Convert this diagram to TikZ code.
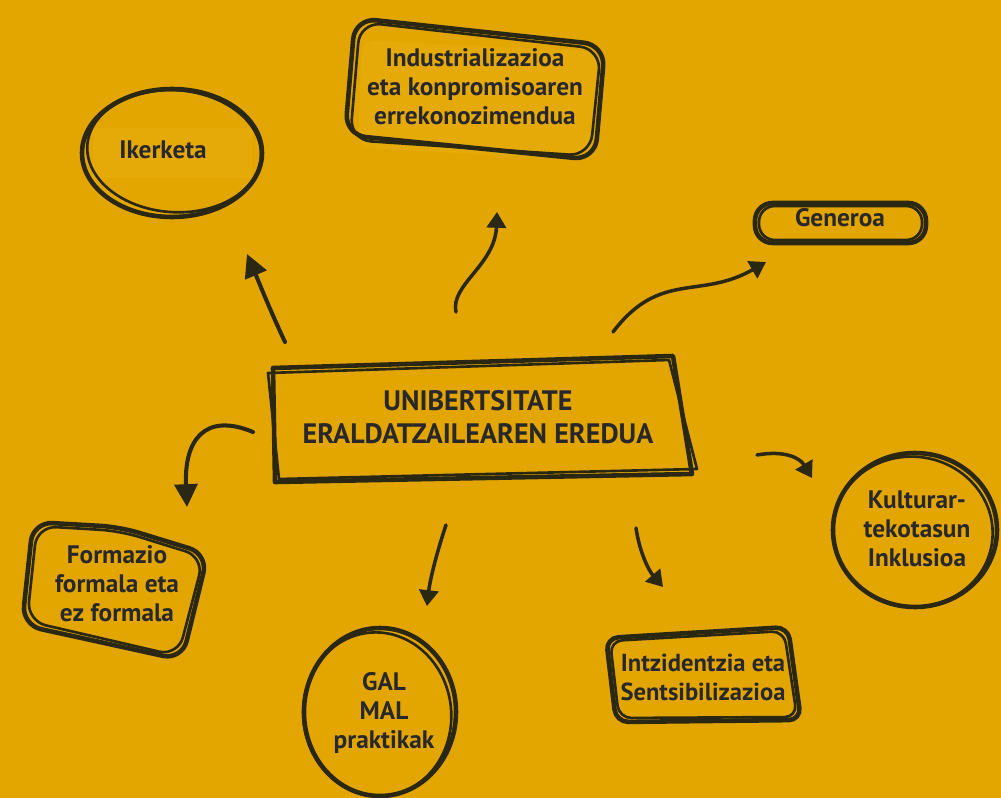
\documentclass[tikz,border=0pt]{standalone}
\usepackage[usenames,dvipsnames,svgnames,table]{xcolor}
\usepackage{fontspec}
\setmainfont{PT Sans}
\usepackage{tikz}
\usetikzlibrary{arrows.meta}
\definecolor{paper}{HTML}{E3A600}
\definecolor{patch}{HTML}{E5AA08}
\definecolor{ink}{HTML}{2A2812}
\definecolor{letter}{HTML}{28272A}
\tikzset{
	sketch/.style={ink, line width=2.6pt, line join=round, line cap=round},
	sketchthin/.style={ink, line width=1.5pt, line join=round, line cap=round},
	label/.style={align=center, text=letter, font=\bfseries\fontsize{14.4}{16.5}\selectfont},
	bigarrow/.style={ink, line width=2.3pt, line cap=round, -{Triangle[length=13pt,width=13pt]}},
	smallarrow/.style={ink, line width=2pt, line cap=round, -{Triangle[length=9pt,width=11pt]}}
}

\begin{document}
\begin{tikzpicture}[x=0.02cm, y=-0.02cm]

	\fill[paper] (0,0) rectangle (1001,798);
	\useasboundingbox (0,0) rectangle (1001,798);

	%	\foreach \i in {0,100,...,1000} {
	%        \draw [very thin,gray] (\i,0) -- (\i,798);
	%    }

	% outlines
	\fill[patch] (93,128) rectangle (252,178);
	\draw[sketch] (172,153) ellipse [x radius=90, y radius=64];
	\draw[sketchthin, rotate around={-4:(172,153)}] (174,151) ellipse [x radius=87, y radius=61];

	\fill[patch, rounded corners=8pt] (362,40) -- (598,52) -- (590,160) -- (358,148) -- cycle;
	\draw[sketch, rounded corners=12pt] (355,18) -- (605,45) -- (595,160) -- (345,135) -- cycle;
	\draw[sketchthin, rounded corners=12pt] (360,22) -- (601,49) -- (590,156) -- (350,140) -- cycle;

	\draw[sketch, rounded corners=10pt] (755,203) rectangle (926,243);
	\draw[sketchthin, rounded corners=9pt] (759,206) rectangle (922,240);

	\draw[sketch] (273,368) -- (673,356) -- (692,474) -- (275,482) -- cycle;
	\draw[sketchthin] (268,373) -- (669,360) -- (697,469) -- (279,479) -- cycle;

	\draw[sketch, rounded corners=11pt] (33,522) -- (120,527) -- (208,554) -- (182,660) -- (22,625) -- cycle;
	\draw[sketchthin, rounded corners=11pt] (37,526) -- (120,531) -- (204,557) -- (178,656) -- (27,621) -- cycle;

	\draw[sketch] (380,712) ellipse [x radius=76, y radius=84];
	\draw[sketchthin, rotate around={6:(380,712)}] (377,714) ellipse [x radius=74, y radius=82];

	\draw[sketch, rounded corners=7pt] (606,638) -- (788,627) -- (801,720) -- (616,722) -- cycle;
	\draw[sketchthin, rounded corners=7pt] (610,641) -- (784,631) -- (797,717) -- (619,718) -- cycle;

	\draw[sketch] (915,530) ellipse [x radius=82, y radius=77];
	\draw[sketchthin, rotate around={-8:(915,530)}] (913,532) ellipse [x radius=80, y radius=75];

	% texts
	\node[label] (ike) at (163,150) {Ikerketa};
	\node[label] (ind) at (475,87) {Industrializazioa\\eta konpromisoaren\\errekonozimendua};
	\node[label] (gen) at (840,218) {Generoa};
	\node[label, font=\bfseries\fontsize{16}{19}\selectfont] (hub) at (478,417) {UNIBERTSITATE\\ERALDATZAILEAREN EREDUA};
	\node[label] (for) at (117,584) {Formazio\\formala eta\\ez formala};
	\node[label] (gal) at (384,713) {GAL\\MAL\\praktikak};
	\node[label, font=\bfseries\fontsize{14}{16.5}\selectfont] (int) at (703,677) {Intzidentzia eta\\Sentsibilizazioa};
	\node[label] (kul) at (917,529) {Kulturar-\\tekotasun\\Inklusioa};

	% arrows
	\coordinate (ikeS) at (285,342);
	\coordinate (ikeE) at (247,254);
	\coordinate (indS) at (456,312);
	\coordinate (indE) at (497,212);
	\coordinate (genS) at (613,332);
	\coordinate (genE) at (766,262);
	\coordinate (forS) at (253,432);
	\coordinate (forE) at (187,507);
	\coordinate (kulS) at (757,455);
	\coordinate (kulE) at (812,478);
	\coordinate (galS) at (446,525);
	\coordinate (galE) at (427,606);
	\coordinate (intS) at (636,528);
	\coordinate (intE) at (663,587);

	\draw[bigarrow] (ikeS) .. controls (270,310) and (258,280) .. (ikeE);
	\draw[smallarrow] (indS) .. controls (450,285) and (495,265) .. (indE);
	\draw[smallarrow] (genS) .. controls (660,270) and (700,300) .. (genE);
	\draw[bigarrow] (forS) .. controls (205,412) and (184,440) .. (forE);
	\draw[smallarrow] (kulS) .. controls (785,450) and (800,458) .. (kulE);
	\draw[smallarrow] (galS) .. controls (436,555) and (430,580) .. (galE);
	\draw[smallarrow] (intS) .. controls (640,555) and (650,572) .. (intE);

\end{tikzpicture}
\end{document}
